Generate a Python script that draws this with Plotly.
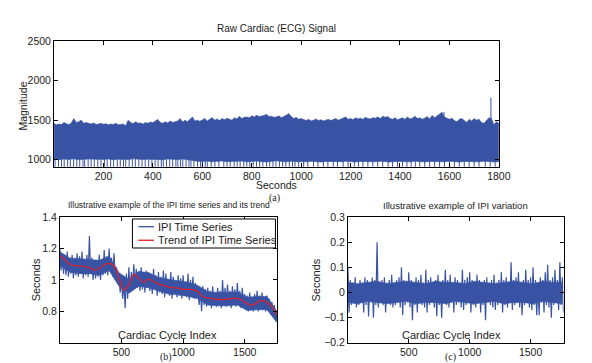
import plotly.graph_objects as go

W, H = 592, 363
BLUE = "#3953a4"
RED = "#e41e26"
FONT = "Liberation Sans, Arial, sans-serif"
SERIF = "Liberation Serif, Times New Roman, serif"

# ---------------- (a) Raw ECG: envelope ----------------
ECG_T_UP = list(range(0, 1801, 10))
ECG_UP = [
    1460, 1440, 1450, 1445, 1470, 1455, 1440, 1465, 1520, 1470,
    1480, 1500, 1460, 1470, 1455, 1450, 1465, 1445, 1450, 1460,
    1447, 1455, 1440, 1450, 1445, 1460, 1440, 1445, 1450, 1430,
    1500, 1470, 1455, 1480, 1460, 1465, 1450, 1470, 1460, 1475,
    1467, 1490, 1508, 1470, 1460, 1480, 1465, 1490, 1470, 1480,
    1490, 1520, 1475, 1500, 1480, 1510, 1540, 1490, 1500, 1485,
    1500, 1520, 1490, 1510, 1532, 1500, 1515, 1495, 1520, 1505,
    1525, 1510, 1500, 1530, 1515, 1550, 1520, 1535, 1540, 1530,
    1555, 1540, 1561, 1545, 1550, 1560, 1573, 1545, 1550, 1535,
    1540, 1555, 1530, 1550, 1560, 1581, 1545, 1520, 1535, 1510,
    1520, 1505, 1495, 1510, 1490, 1500, 1515, 1495, 1505, 1490,
    1500, 1510, 1495, 1505, 1520, 1500, 1515, 1530, 1540, 1510,
    1520, 1505, 1530, 1515, 1525, 1510, 1535, 1520, 1515, 1530,
    1525, 1540, 1520, 1550, 1535, 1545, 1520, 1510, 1530, 1505,
    1520, 1530, 1510, 1540, 1515, 1525, 1550, 1520, 1530, 1510,
    1525, 1545, 1515, 1560, 1530, 1550, 1580, 1600, 1540, 1520,
    1510, 1525, 1495, 1480, 1510, 1520, 1500, 1470, 1510, 1490,
    1520, 1500, 1510, 1470, 1460, 1500, 1530, 1520, 1440, 1480,
    1460,
]
ECG_T_LO = list(range(0, 1801, 20))
ECG_LO = [
    1005, 1000, 1008, 1002, 1010, 1000, 1004, 1008, 1001, 1006,
    1003, 1009, 1000, 1005, 1007, 1002, 1010, 1004, 1001, 1006,
    1003, 1005, 1000, 1008, 1004, 1002, 1009, 1000, 990, 980,
    975, 982, 972, 978, 984, 975, 970, 978, 982, 973,
    977, 984, 975, 970, 978, 986, 976, 972, 980, 975,
    978, 972, 980, 976, 970, 978, 984, 975, 973, 980,
    976, 970, 978, 984, 975, 972, 980, 976, 970, 978,
    984, 975, 972, 980, 976, 971, 978, 984, 975, 972,
    980, 976, 970, 978, 984, 975, 972, 980, 976, 970,
    975,
]
ECG_DIPS = [
    4, 18, 30, 41, 55, 66, 79, 92, 104, 117, 124, 138, 150, 163, 177, 190,
    204, 215, 229, 241, 256, 268, 281, 290, 304, 317, 329, 343, 356, 369,
    383, 396, 409, 421, 434, 442, 455, 468, 480, 493, 501, 512, 521, 534,
    546, 554, 566, 581, 593, 600, 612, 620, 636, 651, 667, 687, 700, 713,
    729, 741, 753, 768, 780, 792, 806, 819, 832, 845, 860, 873, 886, 898,
    912, 925, 938, 952, 965, 975, 990, 1010, 1027, 1050, 1068, 1090, 1108,
    1130, 1147, 1170, 1190, 1215, 1232, 1250, 1270, 1290, 1310, 1330, 1352,
    1370, 1390, 1410, 1428, 1445, 1462, 1480, 1500, 1520, 1540, 1560, 1580,
    1600, 1620, 1640, 1660, 1680, 1700, 1720, 1745, 1765, 1785,
]
ECG_PEAK_T = [1768, 1578, 948]
ECG_PEAK_V = [1785, 1605, 1585]

# ---------------- (b) IPI time series + trend ----------------
IPI_IDX = list(range(0, 1761, 20))
IPI_HI = [
    1.20, 1.16, 1.14, 1.18, 1.13, 1.16, 1.12, 1.17, 1.15, 1.18,
    1.13, 1.16, 1.28, 1.14, 1.12, 1.10, 1.16, 1.13, 1.19, 1.15,
    1.20, 1.14, 1.17, 1.08, 1.02, 1.00, 0.98, 1.04, 1.08, 1.05,
    1.10, 1.07, 1.05, 1.08, 1.03, 1.06, 1.05, 1.04, 1.07, 1.03,
    1.05, 1.02, 1.06, 1.04, 1.00, 1.05, 1.02, 0.99, 1.03, 1.01,
    1.03, 0.99, 1.04, 1.00, 1.02, 0.98, 0.95, 0.93, 0.96, 0.94,
    0.95, 0.93, 0.96, 0.92, 0.95, 0.93, 1.00, 0.95, 0.97, 0.93,
    0.96, 0.94, 0.98, 0.93, 0.95, 0.91, 0.90, 0.92, 0.89, 0.91,
    0.93, 0.90, 0.92, 0.89, 0.90, 0.88, 0.86, 0.84, 0.80,
]
IPI_LO = [
    1.06, 1.04, 1.03, 1.02, 1.04, 1.01, 1.03, 1.02, 1.04, 1.01,
    1.03, 1.02, 1.04, 1.00, 1.01, 1.02, 1.00, 1.03, 1.04, 1.03,
    1.05, 1.02, 1.00, 0.98, 0.92, 0.88, 0.82, 0.88, 0.92, 0.95,
    0.96, 0.95, 0.93, 0.94, 0.92, 0.95, 0.93, 0.91, 0.94, 0.90,
    0.92, 0.91, 0.89, 0.92, 0.90, 0.88, 0.91, 0.89, 0.90, 0.88,
    0.90, 0.89, 0.87, 0.90, 0.88, 0.89, 0.84, 0.80, 0.84, 0.83,
    0.84, 0.82, 0.84, 0.83, 0.85, 0.82, 0.84, 0.83, 0.85, 0.82,
    0.84, 0.83, 0.85, 0.82, 0.83, 0.81, 0.80, 0.81, 0.80, 0.82,
    0.80, 0.82, 0.81, 0.80, 0.81, 0.79, 0.77, 0.74, 0.71,
]
IPI_CORE_IDX = list(range(0, 1761, 80))
IPI_CORE_HI = [1.18, 1.14, 1.135, 1.13, 1.125, 1.15, 1.045, 1.005, 1.055, 1.045,
               1.015, 1.005, 0.995, 0.985, 0.965, 0.925, 0.92, 0.92, 0.925, 0.89,
               0.895, 0.895, 0.80]
IPI_CORE_LO = [1.09, 1.05, 1.04, 1.04, 1.03, 1.06, 0.96, 0.915, 0.96, 0.95,
               0.93, 0.91, 0.905, 0.895, 0.88, 0.84, 0.835, 0.835, 0.84, 0.805,
               0.81, 0.81, 0.73]
TREND_IDX = list(range(0, 1761, 40))
TREND = [
    1.154, 1.13, 1.10, 1.09, 1.09, 1.085, 1.08, 1.062, 1.075, 1.095,
    1.105, 1.09, 1.01, 0.934, 0.97, 1.035, 1.01, 0.985, 1.005, 0.99,
    0.975, 0.965, 0.955, 0.95, 0.948, 0.94, 0.94, 0.937, 0.925, 0.895,
    0.885, 0.88, 0.876, 0.875, 0.878, 0.882, 0.883, 0.87, 0.848, 0.84,
    0.855, 0.87, 0.855, 0.83, 0.775,
]

# ---------------- (c) IPI variation ----------------
VAR_IDX = list(range(0, 1761, 20))
VAR_HI = [
    0.10, 0.05, 0.04, 0.06, 0.03, 0.05, 0.04, 0.06, 0.05, 0.04,
    0.06, 0.05, 0.20, 0.04, 0.05, 0.06, 0.04, 0.05, 0.07, 0.04,
    0.05, 0.06, 0.10, 0.05, 0.04, 0.08, 0.05, 0.04, 0.06, 0.05,
    0.07, 0.04, 0.09, 0.05, 0.06, 0.04, 0.05, 0.07, 0.04, 0.05,
    0.09, 0.05, 0.07, 0.04, 0.06, 0.05, 0.04, 0.09, 0.05, 0.06,
    0.08, 0.05, 0.04, 0.07, 0.05, 0.04, 0.05, 0.06, 0.04, 0.05,
    0.07, 0.04, 0.05, 0.08, 0.05, 0.06, 0.04, 0.12, 0.05, 0.06,
    0.08, 0.04, 0.05, 0.09, 0.05, 0.06, 0.10, 0.05, 0.04, 0.06,
    0.05, 0.08, 0.11, 0.05, 0.06, 0.09, 0.05, 0.12, 0.06,
]
VAR_LO = [
    -0.08, -0.05, -0.04, -0.06, -0.05, -0.04, -0.08, -0.05, -0.095, -0.04,
    -0.10, -0.05, -0.06, -0.04, -0.05, -0.08, -0.04, -0.05, -0.06, -0.05,
    -0.04, -0.06, -0.09, -0.05, -0.04, -0.06, -0.11, -0.05, -0.08, -0.04,
    -0.05, -0.06, -0.08, -0.05, -0.04, -0.06, -0.094, -0.05, -0.10, -0.04,
    -0.05, -0.06, -0.04, -0.08, -0.05, -0.04, -0.06, -0.07, -0.05, -0.04,
    -0.08, -0.05, -0.06, -0.04, -0.08, -0.05, -0.11, -0.04, -0.05, -0.06,
    -0.07, -0.05, -0.04, -0.08, -0.05, -0.06, -0.04, -0.07, -0.05, -0.04,
    -0.06, -0.09, -0.05, -0.04, -0.06, -0.07, -0.05, -0.09, -0.09, -0.04,
    -0.08, -0.05, -0.06, -0.10, -0.05, -0.04, -0.07, -0.05, -0.08,
]
VAR_CORE_IDX = list(range(0, 1761, 80))
VAR_CORE_HI = [0.04, 0.035, 0.04, 0.045, 0.035, 0.04, 0.045, 0.04, 0.035, 0.045,
               0.04, 0.04, 0.035, 0.045, 0.04, 0.035, 0.04, 0.045, 0.04, 0.035,
               0.045, 0.04, 0.04]
VAR_CORE_LO = [-0.04, -0.045, -0.035, -0.04, -0.045, -0.04, -0.035, -0.045, -0.04, -0.04,
               -0.045, -0.035, -0.04, -0.045, -0.04, -0.035, -0.045, -0.04, -0.04, -0.045,
               -0.035, -0.04, -0.045]

LEGEND_LABELS = ["IPI Time Series", "Trend of IPI Time Series"]


def zigzag(idx, hi, lo, half):
    xs, ys = [], []
    for t, a, b in zip(idx, hi, lo):
        xs += [t, t + half]
        ys += [a, b]
    return xs, ys


def band(xa, ya, xb, yb, xa_, ya_):
    return go.Scatter(x=xa + xb[::-1], y=ya + yb[::-1], fill="toself",
                      fillcolor=BLUE, mode="lines", line=dict(color=BLUE, width=0.6),
                      showlegend=False, xaxis=xa_, yaxis=ya_, hoverinfo="skip")


fig = go.Figure()

# (a)
fig.add_trace(band(ECG_T_UP, ECG_UP, ECG_T_LO, ECG_LO, "x", "y"))
dx, dy = [], []
for t in ECG_DIPS:
    dx += [t, t, None]
    dy += [1010, 880, None]
for t, v in zip(ECG_PEAK_T, ECG_PEAK_V):
    dx += [t, t, None]
    dy += [1400, v, None]
fig.add_trace(go.Scatter(x=dx, y=dy, mode="lines",
                         line=dict(color=BLUE, width=1), showlegend=False,
                         xaxis="x", yaxis="y", hoverinfo="skip"))

# (b)
fig.add_trace(band(IPI_CORE_IDX, IPI_CORE_HI, IPI_CORE_IDX, IPI_CORE_LO, "x2", "y2"))
bx, by = zigzag(IPI_IDX, IPI_HI, IPI_LO, 10)
fig.add_trace(go.Scatter(x=bx, y=by, mode="lines", name=LEGEND_LABELS[0],
                         showlegend=False,
                         line=dict(color=BLUE, width=1.2), xaxis="x2", yaxis="y2"))
fig.add_trace(go.Scatter(x=TREND_IDX, y=TREND, mode="lines", name=LEGEND_LABELS[1],
                         showlegend=False, line_shape="spline",
                         line=dict(color=RED, width=1.2), xaxis="x2", yaxis="y2"))

# (c)
fig.add_trace(band(VAR_CORE_IDX, VAR_CORE_HI, VAR_CORE_IDX, VAR_CORE_LO, "x3", "y3"))
cx, cy = zigzag(VAR_IDX, VAR_HI, VAR_LO, 10)
fig.add_trace(go.Scatter(x=cx, y=cy, mode="lines", showlegend=False,
                         line=dict(color=BLUE, width=1.2), xaxis="x3", yaxis="y3"))


def px_x(a, b):
    return [a / W, b / W]


def px_y(top, bot):
    return [1 - bot / H, 1 - top / H]


axcommon = dict(showline=True, linecolor="black", linewidth=1, mirror="allticks",
                ticks="inside", ticklen=4, tickcolor="black", showgrid=False,
                zeroline=False, tickfont=dict(family=FONT, size=10.5, color="#222"))

fig.update_layout(
    width=W, height=H, margin=dict(l=0, r=0, t=0, b=0),
    paper_bgcolor="white", plot_bgcolor="white", showlegend=False,
    xaxis=dict(domain=px_x(47, 501), range=[0, 1800],
               tickvals=[200, 400, 600, 800, 1000, 1200, 1400, 1600, 1800],
               anchor="y", **axcommon),
    yaxis=dict(domain=px_y(28, 158), range=[910, 2500],
               tickvals=[1000, 1500, 2000, 2500], anchor="x", **axcommon),
    xaxis2=dict(domain=px_x(53, 275), range=[1, 1765], tickvals=[500, 1000, 1500],
                anchor="y2", **axcommon),
    yaxis2=dict(domain=px_y(210, 340), range=[0.6, 1.4],
                tickvals=[0.8, 1.0, 1.2, 1.4], anchor="x2", **axcommon),
    xaxis3=dict(domain=px_x(347, 567), range=[1, 1770], tickvals=[500, 1000, 1500],
                anchor="y3", **axcommon),
    yaxis3=dict(domain=px_y(210, 340), range=[-0.2, 0.3], dtick=0.1,
                anchor="x3", **axcommon),
)


def ann(text, x, y, size, family=FONT, angle=0, xanchor="center"):
    fig.add_annotation(text=text, x=x / W, y=1 - y / H, xref="paper", yref="paper",
                       showarrow=False, textangle=angle,
                       font=dict(family=family, size=size, color="#222"),
                       xanchor=xanchor, yanchor="middle")


# manual legend for (b)
fig.add_shape(type="rect", xref="paper", yref="paper",
              x0=127 / W, x1=273 / W, y0=1 - 242 / H, y1=1 - 212 / H,
              line=dict(color="black", width=1), fillcolor="white", layer="above")
for yy, col in ((220, BLUE), (234, RED)):
    fig.add_shape(type="line", xref="paper", yref="paper",
                  x0=133 / W, x1=149 / W, y0=1 - yy / H, y1=1 - yy / H,
                  line=dict(color=col, width=1.3), layer="above")
ann(LEGEND_LABELS[0], 151, 220, 11, xanchor="left")
ann(LEGEND_LABELS[1], 151, 234, 11, xanchor="left")

ann("Raw Cardiac (ECG) Signal", 274, 15, 10)
ann("Seconds", 274, 177, 10.5)
ann("Magnitude", 15, 95, 10.5, angle=-90)
ann("(a)", 272, 190, 10, family=SERIF)

ann("Illustrative example of the IPI time series and its trend", 164, 198, 8.5)
ann("Seconds", 28, 275, 11, angle=-90)
ann("Cardiac Cycle Index", 163, 332, 11)
ann("(b)", 161, 355, 10, family=SERIF)

ann("Illustrative example of IPI variation", 457, 198, 9.5)
ann("Seconds", 314, 275, 11, angle=-90)
ann("Cardiac Cycle Index", 453, 332, 11)
ann("(c)", 452, 355, 10, family=SERIF)

fig.write_html("out.html")
